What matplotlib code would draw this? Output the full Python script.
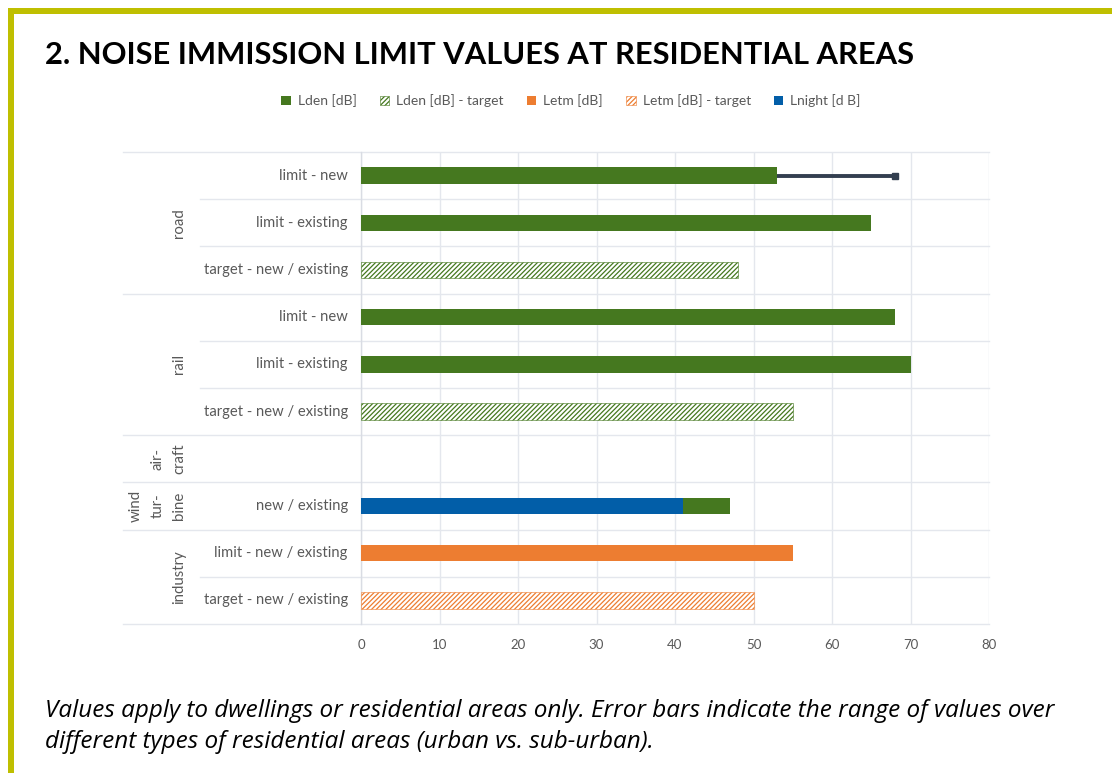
import numpy as np
import matplotlib.pyplot as plt
from matplotlib.patches import Rectangle
from matplotlib.lines import Line2D
import matplotlib.transforms as mtransforms

plt.rcParams['font.family'] = ['Lato', 'DejaVu Sans']
plt.rcParams['hatch.linewidth'] = 0.9

nan = np.nan
rows = ['limit - new', 'limit - existing', 'target - new / existing',
        'limit - new', 'limit - existing', 'target - new / existing',
        '', 'new / existing',
        'limit - new / existing', 'target - new / existing']
groups = ['road', 'rail', 'air-\ncraft', 'wind\ntur-\nbine', 'industry']
group_sizes = [3, 3, 1, 1, 2]

lden = [53, 65, nan, 68, 70, nan, nan, 47, nan, nan]
lden_target = [nan, nan, 48, nan, nan, 55, nan, nan, nan, nan]
letm = [nan, nan, nan, nan, nan, nan, nan, nan, 55, nan]
letm_target = [nan, nan, nan, nan, nan, nan, nan, nan, nan, 50]
lnight = [nan, nan, nan, nan, nan, nan, nan, 41, nan, nan]
lden_err_up = [15, 0, 0, 0, 0, 0, 0, 0, 0, 0]

green = '#45781F'
orange = '#ED7D31'
blue = '#025EA8'
grid_c = '#E4E7ED'
text_c = '#595959'

W, H = 1112, 773
fig = plt.figure(figsize=(W / 100, H / 100), dpi=100)
x0, x1, y0, y1 = 361, 989, 152, 624
ax = fig.add_axes([x0 / W, 1 - y1 / H, (x1 - x0) / W, (y1 - y0) / H])

y = np.arange(len(rows))
bh = 0.35
ax.barh(y, lden, height=bh, color=green, label='Lden [dB]', zorder=3)
ax.barh(y, lden_target, height=bh, color='white', edgecolor=green, hatch='///////',
        linewidth=0.4, label='Lden [dB] - target', zorder=3)
ax.barh(y, letm, height=bh, color=orange, label='Letm [dB]', zorder=3)
ax.barh(y, letm_target, height=bh, color='white', edgecolor=orange, hatch='///////',
        linewidth=0.4, label='Letm [dB] - target', zorder=3)
ax.barh(y, lnight, height=bh, color=blue, label='Lnight [d B]', zorder=4)

# error bar (range over residential area types), only a plus side with square end
lv = np.array(lden, dtype=float)
up = np.array(lden_err_up, dtype=float)
m = up > 0
ax.errorbar(lv[m], y[m], xerr=[np.zeros(m.sum()), up[m]], fmt='none',
            ecolor='#333F50', elinewidth=2.8, capsize=0, zorder=5)
ax.plot(lv[m] + up[m], y[m], 's', color='#333F50', markersize=5, zorder=5)

ax.set_xlim(0, 80)
ax.set_ylim(len(rows) - 0.5, -0.5)
ax.set_xticks(range(0, 81, 10))
ax.set_yticks([])
ax.xaxis.grid(True, color=grid_c, linewidth=1.0, zorder=0)
ax.tick_params(axis='x', length=0, pad=11, labelsize=9.5, labelcolor=text_c)
for s in ['top', 'right', 'bottom']:
    ax.spines[s].set_visible(False)
ax.spines['left'].set_color('#D9DCE3')
ax.spines['left'].set_linewidth(1.0)

# category axis labels and separators
tr = mtransforms.blended_transform_factory(ax.transAxes, ax.transData)
left_full = (123 - x0) / (x1 - x0)
left_inner = (200 - x0) / (x1 - x0)
for i, lab in enumerate(rows):
    ax.text(-0.021, i, lab, transform=tr, ha='right', va='center',
            fontsize=10.6, color=text_c)

bounds = np.cumsum([0] + group_sizes)
for b in range(len(rows) + 1):
    start = left_full if b in bounds else left_inner
    ax.add_line(Line2D([start, 1], [b - 0.5, b - 0.5], transform=tr,
                       color=grid_c, linewidth=1.0, clip_on=False, zorder=1))
gx = (186 - x0) / (x1 - x0)
for g, lo, hi in zip(groups, bounds[:-1], bounds[1:]):
    ax.text(gx, (lo + hi - 1) / 2, g, transform=tr, ha='right', va='center',
            rotation=90, fontsize=10.8, color=text_c, linespacing=1.7,
            multialignment='center')

fig.legend(loc='center', bbox_to_anchor=(571 / W, 1 - 101 / H), ncol=5,
           frameon=False, fontsize=10, labelcolor=text_c, handlelength=0.7,
           handleheight=0.7, handletextpad=0.5, columnspacing=1.65)

# title and note
fig.text(45 / W, 1 - 55 / H, '2. NOISE IMMISSION LIMIT VALUES AT RESIDENTIAL AREAS',
         ha='left', va='center', fontsize=22.2, fontweight='bold', color='black')
note = ['Values apply to dwellings or residential areas only. Error bars indicate the range of values over',
        'different types of residential areas (urban vs. sub-urban).']
fig.text(45 / W, 1 - 711 / H, note[0], ha='left', va='center', fontsize=17.5,
         style='italic', color='black', family=['Open Sans', 'DejaVu Sans'])
fig.text(45 / W, 1 - 742 / H, note[1], ha='left', va='center', fontsize=17.5,
         style='italic', color='black', family=['Open Sans', 'DejaVu Sans'])

# frame decoration
frame_c = '#BFBF00'
fig.add_artist(Rectangle((8 / W, 0), 6 / W, 1 - 8 / H, transform=fig.transFigure,
                         color=frame_c, lw=0))
fig.add_artist(Rectangle((8 / W, 1 - 14 / H), 1 - 8 / W, 6 / H, transform=fig.transFigure,
                         color=frame_c, lw=0))

fig.savefig('out.png', dpi=100)
